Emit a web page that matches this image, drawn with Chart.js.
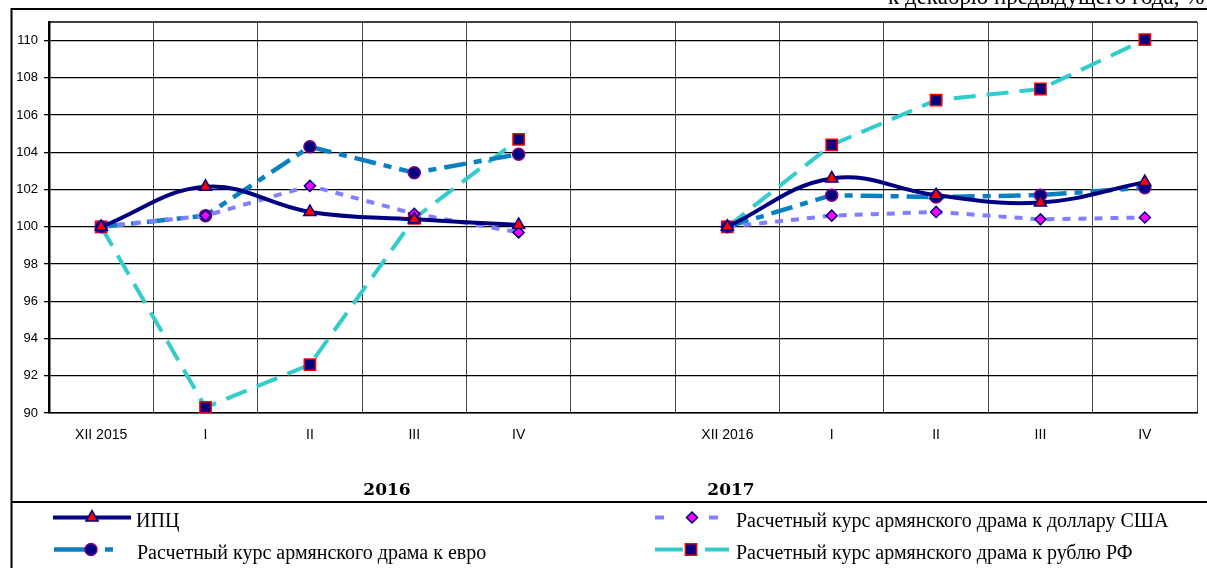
<!DOCTYPE html>
<html>
<head>
<meta charset="utf-8">
<script src="https://cdn.jsdelivr.net/npm/chart.js@4.4.1/dist/chart.umd.min.js"></script>
<style>
  html, body { margin: 0; padding: 0; background: #fff; }
  #wrap { position: relative; width: 1207px; height: 568px; overflow: hidden; }
</style>
</head>
<body>
<div id="wrap"><canvas id="chart" width="1207" height="568"></canvas></div>
<script>
// Categories: two periods separated by an empty slot
const months = ['XII 2015', 'I', 'II', 'III', 'IV', '', 'XII 2016', 'I', 'II', 'III', 'IV'];
const yTicks = [90, 92, 94, 96, 98, 100, 102, 104, 106, 108, 110];

// Index values, % to December of previous year
const cpi = [100, 102.15, 100.8, 100.4, 100.1, null, 100, 102.6, 101.7, 101.3, 102.4];
const usd = [100, 100.6, 102.2, 100.7, 99.7, null, 100, 100.6, 100.8, 100.4, 100.5];
const eur = [100, 100.6, 104.3, 102.9, 103.9, null, 100, 101.7, 101.6, 101.7, 102.1];
const rub = [100, 90.3, 92.6, 100.45, 104.7, null, 100, 104.4, 106.8, 107.4, 110.05];

const labels = {
  cpi: 'ИПЦ',
  usd: 'Расчетный курс армянского драма к доллару США',
  eur: 'Расчетный курс армянского драма к евро',
  rub: 'Расчетный курс армянского драма к рублю РФ',
};

const series = [
  { key: 'cpi', data: cpi, color: '#000080', width: 4, dash: [], tension: 0.4,
    point: 'triangle', radius: 7, fill: '#ff0000', edge: '#000080' },
  { key: 'usd', data: usd, color: '#8080ff', width: 4, dash: [8, 8], tension: 0,
    point: 'rectRot', radius: 5.5, fill: '#ff00ff', edge: '#000080' },
  { key: 'eur', data: eur, color: '#0a80c0', width: 4.5, dash: [22, 8, 8, 8], tension: 0,
    point: 'circle', radius: 6, fill: '#000080', edge: '#800080' },
  { key: 'rub', data: rub, color: '#33cccc', width: 4, dash: [22, 11], tension: 0,
    point: 'rect', radius: 8, fill: '#000080', edge: '#ff0000' },
];

// Frame, year captions, note and legend drawn around the plot
const decorPlugin = {
  id: 'decor',
  afterDraw(chart) {
    const ctx = chart.ctx;
    const a = chart.chartArea;
    ctx.save();

    // plot top border
    ctx.strokeStyle = '#000';
    ctx.lineWidth = 1.5;
    ctx.beginPath();
    ctx.moveTo(a.left, a.top);
    ctx.lineTo(a.right, a.top);
    ctx.stroke();

    // outer frame
    ctx.lineWidth = 2;
    ctx.beginPath();
    ctx.moveTo(1207, 9);
    ctx.lineTo(11.5, 9);
    ctx.lineTo(11.5, 568);
    ctx.moveTo(11.5, 502);
    ctx.lineTo(1207, 502);
    ctx.stroke();

    // note cut off at the top
    ctx.fillStyle = '#000';
    ctx.font = '23px "Liberation Serif", serif';
    ctx.textBaseline = 'alphabetic';
    ctx.textAlign = 'left';
    ctx.fillText('к декабрю предыдущего года, %', 888, 4);

    // year captions
    ctx.font = 'bold 17px "DejaVu Serif", serif';
    ctx.textAlign = 'center';
    ctx.fillText('2016', 387, 495);
    ctx.fillText('2017', 731, 495);

    // legend
    const rows = [
      { s: series[0], y: 517.5, segs: [[53, 131]], mx: 92, tx: 136 },
      { s: series[1], y: 517.5, segs: [[655, 664], [709, 718]], mx: 692, tx: 736 },
      { s: series[2], y: 549.5, segs: [[54, 85], [105, 113]], mx: 91, tx: 137 },
      { s: series[3], y: 549.5, segs: [[655, 683], [705, 729]], mx: 691, tx: 736 },
    ];
    ctx.font = '20px "Liberation Serif", serif';
    ctx.textAlign = 'left';
    for (const r of rows) {
      ctx.strokeStyle = r.s.color;
      ctx.lineWidth = r.s.width;
      ctx.setLineDash([]);
      ctx.lineCap = 'butt';
      for (const [x0, x1] of r.segs) {
        ctx.beginPath();
        ctx.moveTo(x0, r.y);
        ctx.lineTo(x1, r.y);
        ctx.stroke();
      }
      ctx.fillStyle = r.s.fill;
      ctx.strokeStyle = r.s.edge;
      ctx.lineWidth = 1.5;
      Chart.helpers.drawPoint(ctx, {
        pointStyle: r.s.point, radius: r.s.radius, rotation: 0, borderWidth: 1.5,
      }, r.mx, r.y);
      ctx.fillStyle = '#000';
      ctx.fillText(labels[r.s.key], r.tx, r.y + 9.5);
    }
    ctx.restore();
  },
};

new Chart(document.getElementById('chart'), {
  type: 'line',
  data: {
    labels: months,
    datasets: series.map((s) => ({
      label: labels[s.key],
      data: s.data,
      borderColor: s.color,
      borderWidth: s.width,
      borderDash: s.dash,
      tension: s.tension,
      spanGaps: false,
      pointStyle: s.point,
      pointRadius: s.radius,
      pointBackgroundColor: s.fill,
      pointBorderColor: s.edge,
      pointBorderWidth: 1.5,
      fill: false,
    })),
  },
  options: {
    responsive: false,
    animation: false,
    layout: { padding: { top: 22, right: 10, bottom: 115, left: 0 } },
    plugins: {
      legend: { display: false },
      tooltip: { enabled: false },
    },
    scales: {
      x: {
        offset: true,
        grid: { offset: true, color: '#444', lineWidth: 1, drawTicks: false },
        border: { color: '#000', width: 1.5 },
        ticks: {
          color: '#000',
          padding: 14,
          maxRotation: 0,
          autoSkip: false,
          font: { family: '"Liberation Sans", Arial, sans-serif', size: 14 },
        },
        afterFit: (scale) => { scale.height = 40; },
      },
      y: {
        min: 90,
        max: 111,
        afterBuildTicks: (scale) => { scale.ticks = yTicks.map((v) => ({ value: v })); },
        grid: { color: '#000', lineWidth: 1.3, tickLength: 5 },
        border: { color: '#000', width: 2.5 },
        ticks: {
          color: '#000',
          padding: 6,
          font: { family: '"Liberation Sans", Arial, sans-serif', size: 13 },
        },
        afterFit: (scale) => { scale.width = 49; },
      },
    },
  },
  plugins: [decorPlugin],
});
</script>
</body>
</html>
